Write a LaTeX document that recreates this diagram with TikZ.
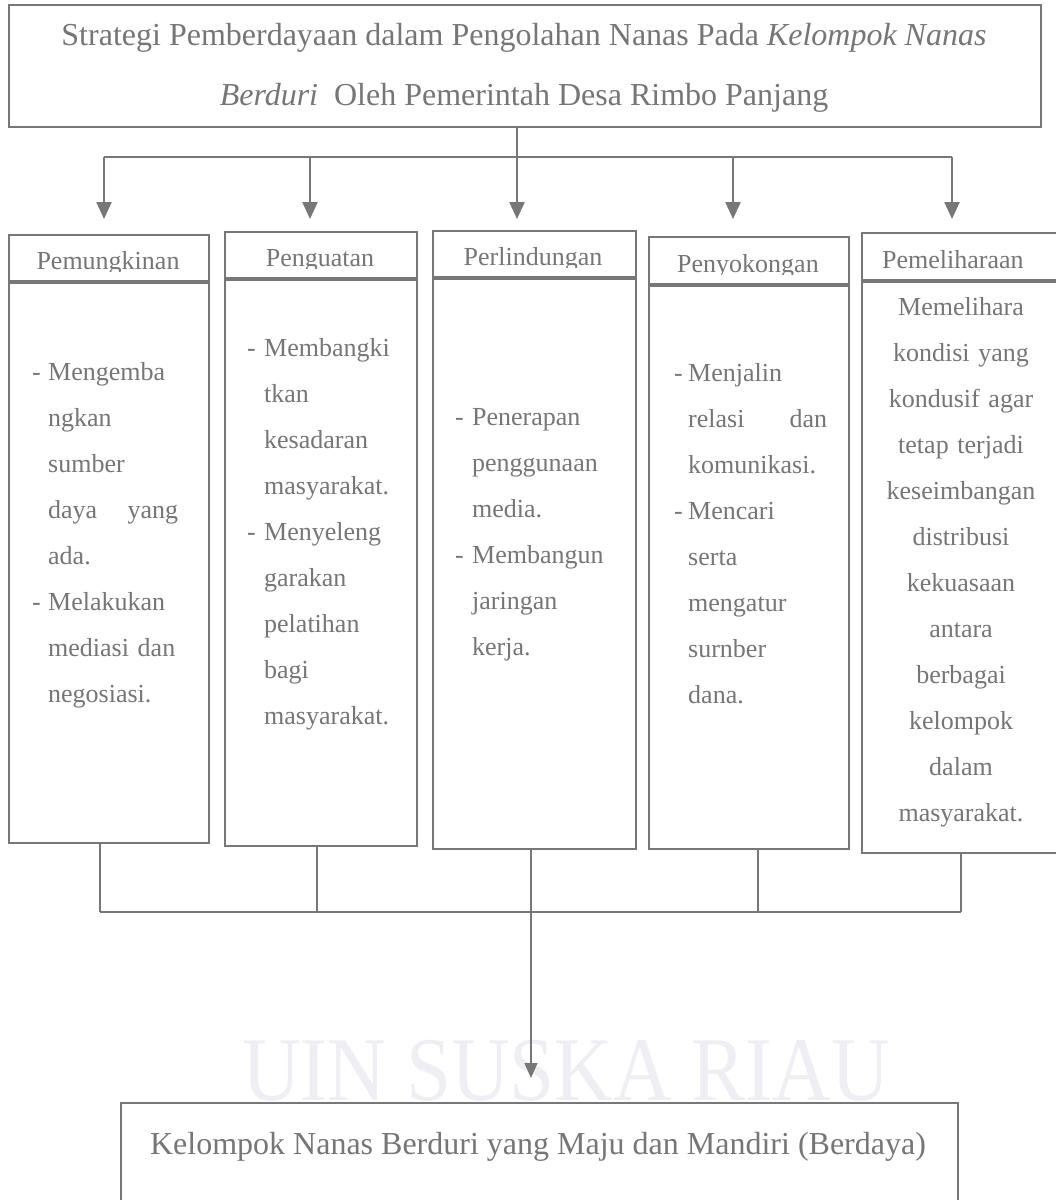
\documentclass[tikz,border=0pt]{standalone}
\usepackage{fontspec}
\setmainfont{Liberation Serif}
\usetikzlibrary{arrows.meta}
\definecolor{lncol}{HTML}{777777}
\definecolor{txcol}{HTML}{767676}
\definecolor{wmcol}{HTML}{EEEEF4}
\begin{document}
\begin{tikzpicture}[x=1pt,y=-1pt,
  frame/.style={draw=lncol, line width=2.4pt, inner sep=0pt},
  conn/.style={draw=lncol, line width=2.4pt},
  thinconn/.style={draw=lncol, line width=1.4pt},
  arr/.style={conn, -{Triangle[width=15pt,length=17pt]}},
  thinarr/.style={thinconn, -{Triangle[width=13pt,length=15pt]}},
  big/.style={font=\fontsize{32}{38}\selectfont, text=txcol, inner sep=0pt},
  head/.style={font=\fontsize{26}{30}\selectfont, text=txcol, inner sep=0pt},
  body/.style={font=\fontsize{26}{46}\selectfont, text=txcol, inner sep=0pt, align=left, anchor=base west},
]
\useasboundingbox (0,0) rectangle (1056,1200);
\fill[white] (0,0) rectangle (1056,1200);
\node[font=\fontsize{91}{91}\selectfont, text=wmcol, xscale=0.89, anchor=base, inner sep=0pt] (wm) at (566,1100) {UIN SUSKA RIAU};

% title
\node[frame, minimum width=1032pt, minimum height=122pt, anchor=north west] (title) at (8,4) {};
\node[big, anchor=base] (tl1) at (524,45) {Strategi Pemberdayaan dalam Pengolahan Nanas Pada \textit{Kelompok Nanas}};
\node[big, anchor=base] (tl2) at (524,105) {\textit{Berduri}\ \ Oleh Pemerintah Desa Rimbo Panjang};

% column frames
\node[frame, minimum width=200pt, minimum height=46pt, anchor=north west] (head1) at (8,234) {};
\node[frame, minimum width=200pt, minimum height=560pt, anchor=north west] (body1) at (8,282) {};
\node[frame, minimum width=192pt, minimum height=46pt, anchor=north west] (head2) at (224,231) {};
\node[frame, minimum width=192pt, minimum height=566pt, anchor=north west] (body2) at (224,279) {};
\node[frame, minimum width=203pt, minimum height=46pt, anchor=north west] (head3) at (432,230) {};
\node[frame, minimum width=203pt, minimum height=570pt, anchor=north west] (body3) at (432,278) {};
\node[frame, minimum width=200pt, minimum height=47pt, anchor=north west] (head4) at (648,236) {};
\node[frame, minimum width=200pt, minimum height=563pt, anchor=north west] (body4) at (648,285) {};
\node[frame, minimum width=201pt, minimum height=47pt, anchor=north west] (head5) at (861,232) {};
\node[frame, minimum width=201pt, minimum height=571pt, anchor=north west] (body5) at (861,281) {};

% header texts (descenders cut as in the original)
\begin{scope}\clip (8,234) rectangle (208,271);
\node[head, anchor=base] (ht1) at (108,269) {Pemungkinan};\end{scope}
\begin{scope}\clip (224,231) rectangle (416,268);
\node[head, anchor=base] (ht2) at (320,266) {Penguatan};\end{scope}
\begin{scope}\clip (432,230) rectangle (635,267);
\node[head, anchor=base] (ht3) at (533,265) {Perlindungan};\end{scope}
\begin{scope}\clip (648,236) rectangle (848,274);
\node[head, anchor=base] (ht4) at (748,272) {Penyokongan};\end{scope}
\node[head, anchor=base west] (ht5) at (882,268) {Pemeliharaan};

% body texts
\node[body, text width=150pt] (bt1) at (32,380) {\makebox[16pt][l]{-}Mengemba\\
\hspace*{16pt}ngkan\\
\hspace*{16pt}sumber\\
\hspace*{16pt}\hbox to 130pt{daya\hfill yang}\\
\hspace*{16pt}ada.\\
\makebox[16pt][l]{-}Melakukan\\
\hspace*{16pt}mediasi dan\\
\hspace*{16pt}negosiasi.};

\node[body, text width=160pt] (bt2) at (247,356) {\makebox[17pt][l]{-}Membangki\\
\hspace*{17pt}tkan\\
\hspace*{17pt}kesadaran\\
\hspace*{17pt}masyarakat.\\
\makebox[17pt][l]{-}Menyeleng\\
\hspace*{17pt}garakan\\
\hspace*{17pt}pelatihan\\
\hspace*{17pt}bagi\\
\hspace*{17pt}masyarakat.};

\node[body, text width=170pt] (bt3) at (455,425) {\makebox[17pt][l]{-}Penerapan\\
\hspace*{17pt}penggunaan\\
\hspace*{17pt}media.\\
\makebox[17pt][l]{-}Membangun\\
\hspace*{17pt}jaringan\\
\hspace*{17pt}kerja.};

\node[body, text width=170pt] (bt4) at (674,381) {\makebox[14pt][l]{-}Menjalin\\
\hspace*{14pt}\hbox to 139pt{relasi\hfill dan}\\
\hspace*{14pt}komunikasi.\\
\makebox[14pt][l]{-}Mencari\\
\hspace*{14pt}serta\\
\hspace*{14pt}mengatur\\
\hspace*{14pt}surnber\\
\hspace*{14pt}dana.};

\node[body, align=center, text width=200pt, anchor=base] (bt5) at (961,315) {Memelihara\\
kondisi yang\\
kondusif agar\\
tetap terjadi\\
keseimbangan\\
distribusi\\
kekuasaan\\
antara\\
berbagai\\
kelompok\\
dalam\\
masyarakat.};

% result box
\node[frame, minimum width=837pt, minimum height=110pt, anchor=north west] (res) at (120,1102) {};
\node[big, anchor=base] (rest) at (538,1154) {Kelompok Nanas Berduri yang Maju dan Mandiri (Berdaya)};

% top connectors
\coordinate (hub) at (517,157);
\coordinate (a1) at (104,219);
\coordinate (a2) at (310,219);
\coordinate (a3) at (517,219);
\coordinate (a4) at (733,219);
\coordinate (a5) at (952,219);
\draw[conn] (hub |- title.south) -- (hub);
\draw[conn] (a1 |- hub) -- (a5 |- hub);
\foreach \i in {1,...,5} \draw[arr] (a\i |- hub) -- (a\i);

% bottom connectors
\coordinate (l1) at (100,912);
\coordinate (l2) at (317,912);
\coordinate (l3) at (531,912);
\coordinate (l4) at (758,912);
\coordinate (l5) at (961,912);
\foreach \i in {1,...,5} \draw[thinconn] (l\i |- body\i.south) -- (l\i);
\draw[thinconn] (l1) -- (l5);
\coordinate (tip) at (531,1078);
\draw[thinarr] (l3) -- (tip);
\end{tikzpicture}
\end{document}
